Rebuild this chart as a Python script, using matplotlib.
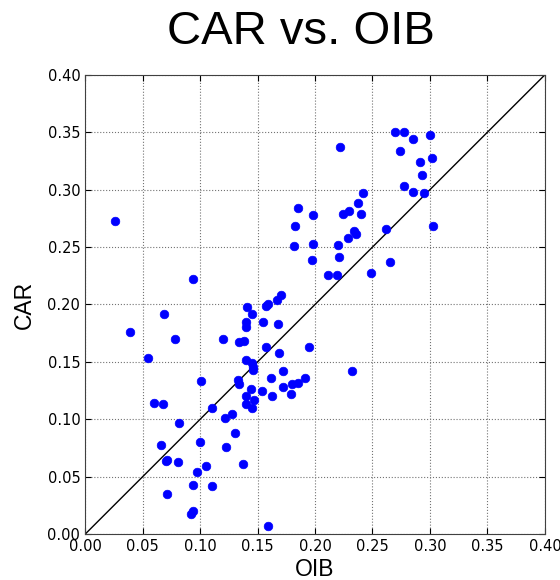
import numpy as np
import matplotlib
matplotlib.use("Agg")
from matplotlib import pyplot as plt

# OIB / CAR values
oib = [0.026, 0.094, 0.185, 0.198, 0.183, 0.182, 0.198, 0.197,
       0.270, 0.277, 0.285, 0.300, 0.222, 0.274, 0.302, 0.291, 0.293, 0.277,
       0.285, 0.295, 0.242, 0.237, 0.230, 0.224, 0.240, 0.262, 0.234, 0.236,
       0.229, 0.303, 0.220, 0.221, 0.211, 0.219, 0.249, 0.265,
       0.170, 0.167, 0.157, 0.159, 0.141, 0.145, 0.069, 0.140, 0.155, 0.168,
       0.140, 0.039, 0.078, 0.120, 0.134, 0.138, 0.157, 0.195, 0.169, 0.055,
       0.140, 0.145, 0.146, 0.146, 0.172, 0.101, 0.133, 0.134, 0.162, 0.191,
       0.185, 0.180, 0.172, 0.154, 0.144, 0.179, 0.163, 0.140, 0.147, 0.140,
       0.145, 0.060, 0.068, 0.110, 0.128, 0.122, 0.082, 0.130, 0.066, 0.100,
       0.123, 0.0705, 0.071, 0.081, 0.105, 0.097, 0.137, 0.094, 0.110, 0.071,
       0.092, 0.094, 0.159, 0.232]
car = [0.273, 0.222, 0.284, 0.278, 0.268, 0.251, 0.253, 0.239,
       0.350, 0.350, 0.344, 0.348, 0.337, 0.334, 0.328, 0.324, 0.313, 0.303,
       0.298, 0.297, 0.297, 0.288, 0.281, 0.279, 0.279, 0.266, 0.264, 0.261,
       0.258, 0.268, 0.252, 0.241, 0.226, 0.226, 0.227, 0.237,
       0.208, 0.204, 0.199, 0.200, 0.198, 0.192, 0.192, 0.185, 0.185, 0.183,
       0.180, 0.176, 0.170, 0.170, 0.167, 0.168, 0.163, 0.163, 0.158, 0.153,
       0.152, 0.149, 0.146, 0.143, 0.142, 0.133, 0.134, 0.131, 0.136, 0.136,
       0.132, 0.131, 0.128, 0.125, 0.126, 0.122, 0.120, 0.120, 0.117, 0.113,
       0.110, 0.114, 0.113, 0.110, 0.105, 0.101, 0.097, 0.088, 0.078, 0.080,
       0.076, 0.064, 0.065, 0.063, 0.059, 0.054, 0.061, 0.043, 0.042, 0.035,
       0.018, 0.020, 0.007, 0.142]

ticks = [0.00, 0.05, 0.10, 0.15, 0.20, 0.25, 0.30, 0.35, 0.40]

fig = plt.figure(figsize=(5.6, 5.8), dpi=100)
fig.patch.set_facecolor("white")
ax = fig.add_axes([0.152, 0.079, 0.821, 0.792])

ax.plot([0, 0.4], [0, 0.4], color="black", linewidth=1.0)
ax.plot(oib, car, "o", color="blue", markeredgecolor="blue",
        markersize=6.2, markeredgewidth=0.5, linestyle="none")

ax.set_xlim(0, 0.4)
ax.set_ylim(0, 0.4)
ax.set_xticks(ticks)
ax.set_yticks(ticks)
ax.set_xticklabels(["%.2f" % t for t in ticks], fontsize=10.5)
ax.set_yticklabels(["%.2f" % t for t in ticks], fontsize=10.5)
ax.tick_params(direction="in", top=True, right=True, length=4)
ax.grid(True, linestyle=":", color="0.45", linewidth=0.8)
ax.set_axisbelow(True)
for s in ax.spines.values():
    s.set_color("0.25")

# title and axis labels are in an Arial-like face
ax.set_xlabel("OIB", fontsize=16.5, labelpad=3, family="Liberation Sans")
ax.set_ylabel("CAR", fontsize=16.5, labelpad=8, family="Liberation Sans")
fig.text(0.537, 0.945, "CAR vs. OIB", ha="center", va="center",
         fontsize=34, family="Liberation Sans")

plt.savefig("out.png", dpi=100, facecolor="white")
